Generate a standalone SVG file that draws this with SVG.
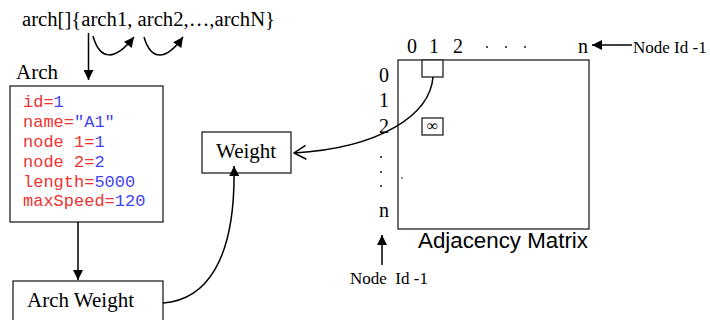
<svg xmlns="http://www.w3.org/2000/svg" width="710" height="320" viewBox="0 0 710 320">
<defs>
<style>
.serif{font-family:"Liberation Serif","Times New Roman",serif;fill:#000}
.mono{font-family:"Liberation Mono","Courier New",monospace;font-size:17px}
.k{fill:#ee3333}
.v{fill:#4444ee}
.box{fill:#fff;stroke:#222;stroke-width:1.3}
.ln{fill:none;stroke:#000;stroke-width:1.5}
</style>
<marker id="fa" viewBox="0 0 10 10" refX="10" refY="5" markerWidth="11" markerHeight="10" markerUnits="userSpaceOnUse" orient="auto">
<path d="M0,0 L10,5 L0,10 Z" fill="#000"/>
</marker>
<marker id="oa" viewBox="0 0 14 16" refX="13" refY="8" markerWidth="14" markerHeight="16" markerUnits="userSpaceOnUse" orient="auto">
<path d="M1,1 L13,8 L1,15" fill="none" stroke="#000" stroke-width="1.5"/>
</marker>
</defs>
<rect width="710" height="320" fill="#fff"/>

<g id="array-label">
<text class="serif" x="22" y="26" font-size="20" textLength="253" lengthAdjust="spacingAndGlyphs">arch[]{arch1, arch2,…,archN}</text>
</g>

<g id="arch">
<text class="serif" x="16" y="79" font-size="21">Arch</text>
<rect class="box" x="10" y="86" width="153" height="136"/>
<text class="mono" x="23" y="107"><tspan class="k">id=</tspan><tspan class="v">1</tspan></text>
<text class="mono" x="23" y="127"><tspan class="k">name=</tspan><tspan class="v">"A1"</tspan></text>
<text class="mono" x="23" y="147"><tspan class="k">node 1=</tspan><tspan class="v">1</tspan></text>
<text class="mono" x="23" y="167"><tspan class="k">node 2=</tspan><tspan class="v">2</tspan></text>
<text class="mono" x="23" y="187"><tspan class="k">length=</tspan><tspan class="v">5000</tspan></text>
<text class="mono" x="23" y="206"><tspan class="k">maxSpeed=</tspan><tspan class="v">120</tspan></text>
</g>

<g id="arch-weight">
<rect class="box" x="13" y="281" width="150" height="45"/>
<text class="serif" x="27" y="307" font-size="21">Arch Weight</text>
</g>

<g id="weight">
<rect class="box" x="202" y="132" width="89" height="41"/>
<text class="serif" x="216" y="158" font-size="21">Weight</text>
</g>

<g id="matrix">
<rect class="box" x="398" y="60" width="191" height="169" fill="none"/>
<rect class="box" x="422" y="60" width="21" height="17"/>
<rect class="box" x="422" y="118" width="21" height="17"/>
<text class="serif" x="432.5" y="131" font-size="16" text-anchor="middle">∞</text>
<g class="serif" font-size="20">
<text x="407" y="53">0</text>
<text x="429" y="53">1</text>
<text x="453" y="53">2</text>
<text x="578" y="53">n</text>
<text x="379" y="82">0</text>
<text x="379" y="107">1</text>
<text x="379" y="133">2</text>
<text x="379" y="217">n</text>
</g>
<g fill="#000">
<circle cx="487" cy="47" r="0.9"/>
<circle cx="506" cy="47" r="0.9"/>
<circle cx="525" cy="47" r="0.9"/>
<circle cx="381" cy="157" r="0.9"/>
<circle cx="381" cy="172" r="0.9"/>
<circle cx="381" cy="186" r="0.9"/>
<circle cx="402" cy="178" r="0.8"/>
</g>
<text x="418" y="248" font-family="Liberation Sans, Arial, sans-serif" font-size="22" textLength="170" lengthAdjust="spacingAndGlyphs">Adjacency Matrix</text>
<text class="serif" x="633" y="53" font-size="17">Node Id -1</text>
<text class="serif" x="350" y="284" font-size="17" xml:space="preserve">Node  Id -1</text>
</g>

<g id="connectors">
<path class="ln" d="M88.5,33 V80" marker-end="url(#fa)"/>
<path class="ln" d="M93,36 C100,61 115,61 134,37" marker-end="url(#fa)"/>
<path class="ln" d="M144,37 C151,61 166,61 183,37" marker-end="url(#fa)"/>
<path class="ln" d="M78,222 V280" marker-end="url(#fa)"/>
<path class="ln" d="M163,303 C205,300 236,262 234,166" marker-end="url(#fa)"/>
<path class="ln" d="M433,77 C430,115 380,148 294,153" marker-end="url(#oa)"/>
<path class="ln" d="M632,45 H592" marker-end="url(#fa)"/>
<path class="ln" d="M382,265 V235" marker-end="url(#fa)"/>
</g>
</svg>
